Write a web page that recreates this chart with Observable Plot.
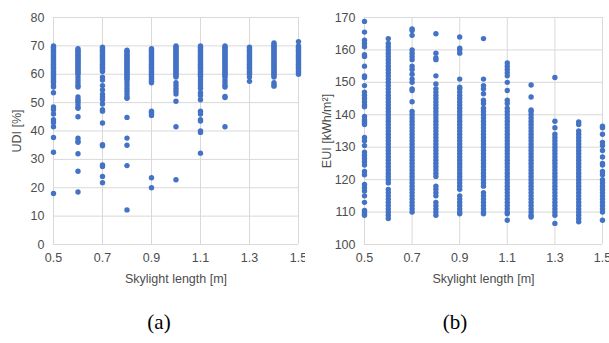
<!DOCTYPE html>
<html>
<head>
<meta charset="utf-8">
<script src="https://cdn.jsdelivr.net/npm/d3@7"></script>
<script src="https://cdn.jsdelivr.net/npm/@observablehq/plot@0.6"></script>
<style>
  body { margin: 0; background: #fff; }
  #wrap { position: relative; width: 609px; height: 343px; overflow: hidden; }
  .panel { position: absolute; top: 0; }
  .cap { position: absolute; font-family: "Liberation Serif", "DejaVu Serif", serif; font-size: 21px; color: #000; transform: translateX(-50%); top: 310px; }
</style>
</head>
<body>
<div id="wrap">
  <div id="pa" class="panel" style="left:0px"></div>
  <div id="pb" class="panel" style="left:305px"></div>
  <div class="cap" style="left:159px">(a)</div>
  <div class="cap" style="left:455px">(b)</div>
</div>
<script>
const lengths = [0.5, 0.6, 0.7, 0.8, 0.9, 1.0, 1.1, 1.2, 1.3, 1.4, 1.5];
const xTicks = [0.5, 0.7, 0.9, 1.1, 1.3, 1.5];
const udiTicks = [0, 10, 20, 30, 40, 50, 60, 70, 80];
const euiTicks = [100, 110, 120, 130, 140, 150, 160, 170];

// UDI [%] values per skylight length
const udiValues = [
  [70,69.5,69,68.5,68,67.5,67,66.5,66,65.5,65,64.5,64,63.5,63,62.5,62,61.5,61,60.5,60,59.5,59,58.5,58,57.5,57,56,55.5,53.5,48.5,47.5,46,44,43,41.5,37.7,32.5,18],
  [69,68.5,68,67.5,67,66.5,66,65.5,65,64.5,64,63.5,63,62.5,62,61.5,61,60.5,60,59,58,57,56,55.5,52,51,50.5,49.5,48.5,48,45,37.5,36.5,36,32,25.8,18.5],
  [69.5,69,68.5,68,67.5,67,66.5,66,65.5,65,64.5,64,63.5,63,62.5,62,61.5,61,59,58,56,54.5,53,52,51,49.5,47.5,47,42.8,35.2,34.8,28,27.5,24,21.8],
  [68.5,68,67.5,67,66.5,66,65.5,65,64.5,64,63.5,63,62.5,62,61.5,61,60.5,60,59.5,59,58.5,58,57,56,55,54,53,52,51.5,44.8,37.5,35,27.8,12.2],
  [69,68.5,68,67.5,67,66.5,66,65.5,65,64.5,64,63.5,63,62.5,62,61.5,61,60.5,60,59.5,59,58.5,58,57.5,57,47,46.5,46,45.5,23.5,20],
  [70,69.5,69,68.5,68,67.5,67,66.5,66,65.5,65,64.5,64,63.5,63,62.5,62,61.5,61,60.5,60,59.5,59,57,56,55,54,53,50.5,41.5,22.8],
  [70,69.5,69,68.5,68,67.5,67,66.5,66,65.5,65,64.5,64,63.5,63,62.5,62,61.5,61,60.5,60,59.5,59,58,57,56,55,53.5,52.5,51,47,46,44,43.5,40,39.5,32.2],
  [70,69.5,69,68.5,68,67.5,67,66.5,66,65.5,65,64.5,64,63.5,63,62.5,62,61.5,61,60.5,60,59.5,59,58,57,56,55.5,52.2,51.8,41.5],
  [69.5,69,68.5,68,67.5,67,66.5,66,65.5,65,64.5,64,63.5,63,62.5,62,61.5,61,60.5,60,59,57.5],
  [71,70.5,70,69.5,69,68.5,68,67.5,67,66.5,66,65.5,65,64.5,64,63.5,63,62.5,62,61.5,61,60.5,60,59.5,59,57,56.2,55.8],
  [71.5,70,69.5,69,68.5,68,67.5,67,66.5,66,65.5,65,64.5,64,63.5,63,62.5,62,61.5,61,60.5,60]
];

// EUI [kWh/m2] values per skylight length
const euiValues = [
  [168.8,165.5,163,162,161,158.5,158,155,152,151.5,149,147,146,145,144,143,142.5,139.5,138.5,138,137.5,137,133,132,130.5,128.5,127.5,126.5,125.5,124.5,122.5,121.5,118.5,117.5,116.5,115,113,110.5,110,109.5,109],
  [163.5,162,161,160,159,158,157,156,155,154,153,152,151,150,149,148,147,146,145,144,143,142,141,140,139,138,137,136,135,134,133,132,131,130,129,128,127,126,125,124,123,122,121,120,119,117,116,115,114,113,112,111,110,109,108],
  [166.5,166,164.5,160,159,158,157,155,154,152.5,151,150,148,147.5,144,141,140,139,138,137,136,135,134,133,132,131,130,129,128,127,126,125,124,123,122,121,120,119,118,117,116,115,114,113,112,111,110],
  [165,159,157.5,157,152,149.5,148,147,146,145,144,143,142,141,140,139,138,137,136,135,134,133,132,131,130,129,128,127,126,125,124,123,122,121,118,117,116,115,113,112,111,110,109],
  [164,160.5,160,159,151,148.5,148,147,146,145,144,143,142,141,140,139,138,137,136,135,134,133,132,131,130,129,128,127,126,125,124,123,122,121,120,119,118,117,115,114,113,112,111,110,109.5],
  [163.5,151,149,148,146.5,144.5,143.5,142,141,140,139,138,137,136,135,134,133,132,131,130,129,128,127,126,125,124,123,122,121,120,119,118,116,115,114,113,112,111,110,109.5],
  [156,155,154,153,152,150,147.5,144.5,143.5,142,141,140,139,138,137,136,135,134,133,132,131,130,129,128,127,126,125,124,123,122,121,120,119,118,117,116,115,114,113,112,111,110,109.5,107.5],
  [149.2,145.5,141.5,141,140,139,138,137,136,135,134,133,132,131,130,129,128,127,126,125,124,123,122,121,120,119,118,117,116,115,114,113,112,111,110,109,108.5],
  [151.5,138,136,134,133,132,131,130,129,128,127,126,125,124,123,122,121,120,119,118,117,116,115,114,113,112,111,110,109,106.5],
  [137.8,137,135,134,133,132,131,130,129,128,127,126,125,124,123,122,121,120,119,118,117,116,115,114,113,112,111,110,109,108,107],
  [136.5,136,134,131.5,130.5,129,127,125,124.5,122.5,121.5,120,119,118,117,116,115,114,113,112,111,110,107.5]
];

const udiRows = lengths.flatMap((L, i) => udiValues[i].map(v => ({x: L, y: v})));
const euiRows = lengths.flatMap((L, i) => euiValues[i].map(v => ({x: L, y: v})));

const font = "'Liberation Sans', Arial, sans-serif";
const gridColor = "#d9d9d9";
const dotColor = "#4472C4";
const textColor = "#4d4d4d";

function panel(rows, yDomain, yTicks, yLabel, width, ml, yLabelOffset) {
  return Plot.plot({
    width: width,
    height: 290,
    marginLeft: ml,
    marginRight: 7,
    marginTop: 17,
    marginBottom: 46,
    style: {fontFamily: font, fontSize: "12px", color: textColor, background: "white", overflow: "visible"},
    x: {domain: [0.5, 1.5], ticks: xTicks},
    y: {domain: yDomain, ticks: yTicks},
    marks: [
      Plot.gridX(xTicks, {stroke: gridColor, strokeOpacity: 1, strokeWidth: 1}),
      Plot.gridY(yTicks, {stroke: gridColor, strokeOpacity: 1, strokeWidth: 1}),
      Plot.dot(rows, {x: "x", y: "y", r: 2.7, fill: dotColor, stroke: "none"}),
      Plot.axisX(xTicks, {tickSize: 0, tickPadding: 9, tickFormat: d3.format(".1f"), fontSize: 12.5,
        label: "Skylight length [m]", labelAnchor: "center", labelArrow: "none", labelOffset: 38}),
      Plot.axisY(yTicks, {tickSize: 0, tickPadding: 9, fontSize: 12.5,
        label: yLabel, labelAnchor: "center", labelArrow: "none", labelOffset: yLabelOffset})
    ]
  });
}

document.getElementById("pa").appendChild(panel(udiRows, [0, 80], udiTicks, "UDI [%]", 305, 53, 41));
document.getElementById("pb").appendChild(panel(euiRows, [100, 170], euiTicks, "EUI [kWh/m²]", 304, 59, 42));
</script>
</body>
</html>
